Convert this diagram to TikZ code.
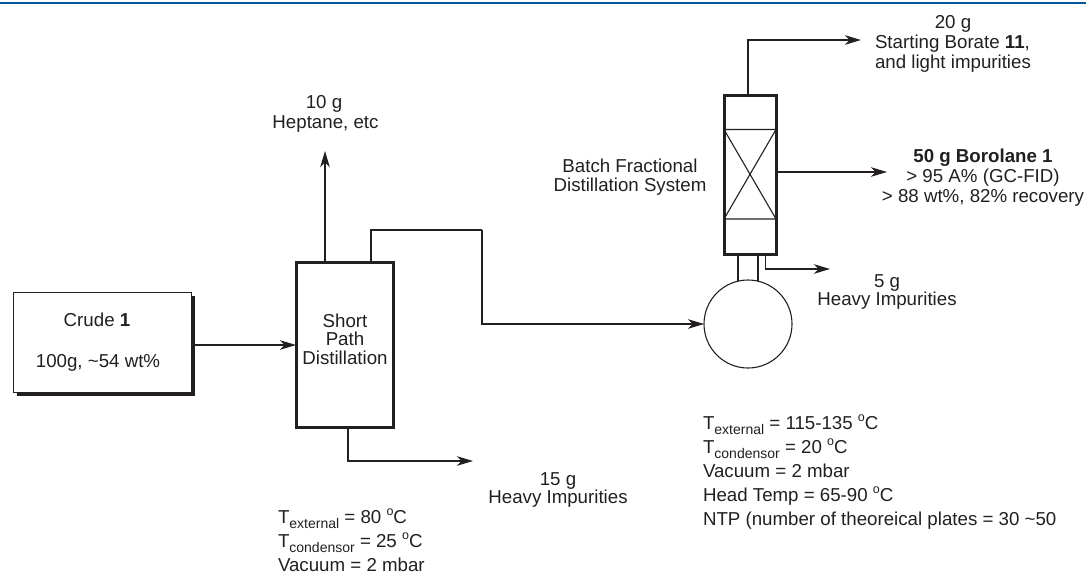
\documentclass[tikz,border=0pt]{standalone}
\usepackage{fontspec}
\setmainfont{Liberation Sans}
\usetikzlibrary{arrows.meta,calc}
\definecolor{rule}{HTML}{00589C}
\definecolor{ink}{HTML}{231F20}
\tikzset{
  x=1pt,y=-1pt,
  every node/.style={font=\fontsize{18.7}{22}\selectfont,text=ink,inner sep=0pt,outer sep=0pt},
  lbl/.style={anchor=base},
  lbll/.style={anchor=base west},
  flow/.style={draw=ink,line width=1.1pt,-{Stealth[length=16pt,width=9.5pt,inset=4.5pt]}},
  pipe/.style={draw=ink,line width=1.1pt},
  vessel/.style={draw=ink,line width=3pt,fill=white,rectangle},
  thin box/.style={draw=ink,line width=1pt,fill=white,rectangle},
}
\newcommand{\Sub}[1]{\raisebox{-0.3em}{\fontsize{14}{14}\selectfont #1}}
\newcommand{\Deg}{\raisebox{0.4em}{\fontsize{12.5}{12}\selectfont o}}
\begin{document}
\begin{tikzpicture}
\useasboundingbox (0,0) rectangle (1086,573);
\fill[rule] (0,1.5) rectangle (1086,3.5);
% feed
\fill[ink] (17,296) rectangle (195,396);
\node[thin box,minimum width=178pt,minimum height=100pt,anchor=north west] (crude) at (13,292) {};
\node[lbl] (crudeA) at (97,326) {Crude \textbf{1}};
\node[lbl] (crudeB) at (98,367) {100g, \textasciitilde54 wt\%};
% short path
\node[vessel,minimum width=97pt,minimum height=165.5pt,anchor=north west] (sp) at (296,262) {};
\node[lbl] (spA) at (345,327) {Short};
\node[lbl] (spB) at (345,345) {Path};
\node[lbl] (spC) at (345,364) {Distillation};
% pot
\node[draw=ink,line width=1.1pt,circle,minimum size=88pt,fill=white] (pot) at (748,324) {};
% column
\node[vessel,minimum width=52pt,minimum height=159pt,anchor=north west] (col) at (724,95.5) {};
\coordinate (pa) at (724,129.5);
\coordinate (pb) at (776,129.5);
\coordinate (pc) at (724,219);
\coordinate (pd) at (776,219);
\draw[pipe] (pa) -- (pb) (pc) -- (pd) (pa) -- (pd) (pb) -- (pc);
% neck
\coordinate (na) at (738,255);
\coordinate (nb) at (758,255);
\coordinate (nc) at (738,281);
\coordinate (nd) at (758,281);
\draw[pipe] (na) -- (nc) (nb) -- (nd);
% connectors
\coordinate (fromcrude) at (195,345);
\coordinate (sptop1) at (325,261);
\coordinate (sptop2) at (371,261);
\coordinate (spbot) at (348,429);
\coordinate (coltop) at (748,94);
\coordinate (colside) at (777,172);
\coordinate (colbot) at (765.5,255);
\coordinate (potw) at (704,324);
\coordinate (tHeptane) at (325,151);
\coordinate (tHeavyA) at (473,461);
\coordinate (tTop) at (861,40);
\coordinate (tMid) at (887,172);
\coordinate (tHeavyB) at (830,269);
\coordinate (bendA) at (482,230);
\draw[flow] (fromcrude) -- (sp.west |- fromcrude);
\draw[flow] (sptop1) -- (tHeptane);
\draw[pipe] (sptop2) |- (bendA);
\draw[flow] (bendA) |- (potw);
\draw[flow] (spbot) |- (tHeavyA);
\draw[flow] (coltop) |- (tTop);
\draw[flow] (colside) -- (tMid);
\draw[flow] (colbot) |- (tHeavyB);
% labels
\node[lbl] (a1) at (324,108) {10 g};
\node[lbl] (a2) at (325.5,128) {Heptane, etc};
\node[lbl] (b1) at (953,28) {20 g};
\node[lbll] (b2) at (875,48) {Starting Borate \textbf{11},};
\node[lbll] (b3) at (875,68) {and light impurities};
\node[lbl] (c1) at (983,162) {\textbf{50 g Borolane 1}};
\node[lbl] (c2) at (983,182) {> 95 A\% (GC-FID)};
\node[lbl] (c3) at (983,202) {> 88 wt\%, 82\% recovery};
\node[lbl] (d1) at (887,287) {5 g};
\node[lbl] (d2) at (887,305) {Heavy Impurities};
\node[lbl] (e1) at (630,172) {Batch Fractional};
\node[lbl] (e2) at (630,191) {Distillation System};
\node[lbl] (f1) at (558,485) {15 g};
\node[lbl] (f2) at (558,503) {Heavy Impurities};
\node[lbll] (g1) at (278,523) {T\Sub{external} = 80 \Deg C};
\node[lbll] (g2) at (278,547) {T\Sub{condensor} = 25 \Deg C};
\node[lbll] (g3) at (278,571) {Vacuum = 2 mbar};
\node[lbll] (h1) at (703,429) {T\Sub{external} = 115-135 \Deg C};
\node[lbll] (h2) at (703,453) {T\Sub{condensor} = 20 \Deg C};
\node[lbll] (h3) at (703,477) {Vacuum = 2 mbar};
\node[lbll] (h4) at (703,501) {Head Temp = 65-90 \Deg C};
\node[lbll] (h5) at (703,525) {NTP (number of theoreical plates = 30 \textasciitilde50};
\end{tikzpicture}
\end{document}
